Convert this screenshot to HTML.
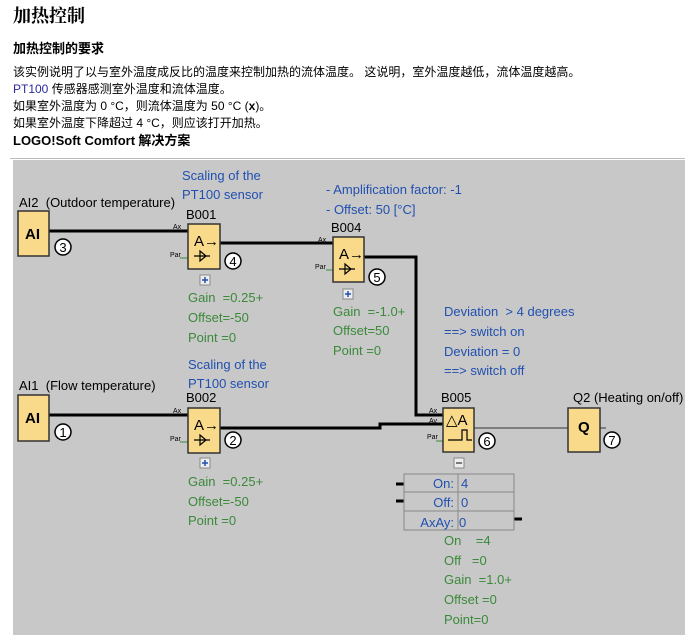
<!DOCTYPE html>
<html><head><meta charset="utf-8"><style>
body{margin:0;width:685px;height:635px;overflow:hidden;background:#fff;font-family:"Liberation Sans","Noto Sans CJK SC",sans-serif;}
.t{position:absolute;left:13px;color:#000;white-space:nowrap}
svg text{white-space:pre}
</style></head><body>
<div class="t" style="top:2px;font-family:'Liberation Serif','Noto Serif CJK SC',serif;font-size:18px;font-weight:bold;">加热控制</div>
<div class="t" style="top:38px;font-size:13px;font-weight:bold;">加热控制的要求</div>
<div class="t" style="top:64px;font-size:12px;line-height:17px;">该实例说明了以与室外温度成反比的温度来控制加热的流体温度。 这说明，室外温度越低，流体温度越高。<br><span style="color:#2a2a9a">PT100</span> 传感器感测室外温度和流体温度。<br>如果室外温度为 0 °C，则流体温度为 50 °C (<b>x</b>)。<br>如果室外温度下降超过 4 °C，则应该打开加热。<br><b style="font-size:13px">LOGO!Soft Comfort</b> <b style="font-size:13px">解决方案</b></div>
<svg style="position:absolute;left:0;top:0" width="685" height="635" font-family="Liberation Sans, sans-serif">
<line x1="10" y1="158.5" x2="685" y2="158.5" stroke="#bbb"/>
<rect x="13" y="160" width="672" height="475" fill="#c8c8c8"/>
<g stroke="#000" stroke-width="3" fill="none">
<polyline points="49,231 188,231"/>
<polyline points="220,243 333,243"/>
<polyline points="364,257 416,257 416,415 443,415"/>
<polyline points="49,415 188,415"/>
<polyline points="220,428 380,428 380,424 443,424"/>
<line x1="396" y1="484" x2="404" y2="484"/><line x1="396" y1="501" x2="404" y2="501"/><line x1="514" y1="519" x2="522" y2="519"/>
</g>
<line x1="474" y1="428" x2="568" y2="428" stroke="#333" stroke-width="1"/>
<line x1="600" y1="428" x2="606" y2="428" stroke="#333"/>
<g stroke="#3a8a3a" stroke-width="1"><line x1="180" y1="258" x2="188" y2="258"/><line x1="180" y1="442" x2="188" y2="442"/><line x1="326" y1="270" x2="333" y2="270"/><line x1="436" y1="441" x2="443" y2="441"/></g>
<g fill="#f9d98a" stroke="#333" stroke-width="1.5">
<rect x="18" y="211" width="31" height="45"/><rect x="18" y="395" width="31" height="46"/>
<rect x="188" y="224" width="32" height="45"/><rect x="188" y="408" width="32" height="45"/>
<rect x="333" y="237" width="31" height="45"/><rect x="443" y="408" width="31" height="44"/>
<rect x="568" y="408" width="32" height="44"/>
</g>
<g font-size="15" font-weight="bold" fill="#000"><text x="25" y="239">AI</text><text x="25" y="423">AI</text><text x="578" y="432">Q</text></g>
<g font-size="15" fill="#000"><text x="194" y="246">A→</text><text x="194" y="430">A→</text><text x="339" y="259">A→</text><text x="446" y="425">△A</text></g>
<g stroke="#000" fill="none" stroke-width="1.2">
<path d="M194,256h16M200,251l6,5l-6,5z"/><path d="M194,440h16M200,435l6,5l-6,5z"/><path d="M339,269h16M345,264l6,5l-6,5z"/>
<path d="M448,440h14v-10h5v10h5"/></g>
<g font-size="7" fill="#000"><text x="173" y="229">Ax</text><text x="170" y="257">Par</text><text x="173" y="413">Ax</text><text x="170" y="441">Par</text><text x="318" y="242">Ax</text><text x="315" y="269">Par</text><text x="429" y="413">Ax</text><text x="429" y="423">Av</text><text x="427" y="439">Par</text></g>
<g fill="#fff" stroke="#000" stroke-width="1.5"><circle cx="63" cy="247" r="8"/><circle cx="63" cy="432" r="8"/><circle cx="233" cy="261" r="8"/><circle cx="233" cy="440" r="8"/><circle cx="377" cy="277" r="8"/><circle cx="487" cy="441" r="8"/><circle cx="612" cy="440" r="8"/></g>
<g font-size="13" text-anchor="middle" fill="#000"><text x="63" y="252">3</text><text x="63" y="437">1</text><text x="233" y="266">4</text><text x="233" y="445">2</text><text x="377" y="282">5</text><text x="487" y="446">6</text><text x="612" y="445">7</text></g>
<g fill="#eee" stroke="#888"><rect x="200" y="275" width="10" height="10"/><rect x="200" y="458" width="10" height="10"/><rect x="343" y="289" width="10" height="10"/><rect x="454" y="458" width="10" height="10"/></g>
<g stroke="#2050b0" stroke-width="1.5"><path d="M202,280h6M205,277v6M202,463h6M205,460v6M345,294h6M348,291v6"/><path d="M456,463h6" stroke="#555"/></g>
<g font-size="13" fill="#000"><text x="19" y="207">AI2  (Outdoor temperature)</text><text x="19" y="390">AI1  (Flow temperature)</text><text x="186" y="219">B001</text><text x="186" y="402">B002</text><text x="331" y="232">B004</text><text x="441" y="402">B005</text><text x="573" y="402">Q2 (Heating on/off)</text></g>
<g font-size="13" fill="#2050b0"><text x="182" y="180">Scaling of the</text><text x="182" y="199">PT100 sensor</text><text x="188" y="369">Scaling of the</text><text x="188" y="388">PT100 sensor</text><text x="326" y="194">- Amplification factor: -1</text><text x="326" y="214">- Offset: 50 [°C]</text>
<text x="444" y="316">Deviation  &gt; 4 degrees</text><text x="444" y="336">==&gt; switch on</text><text x="444" y="356">Deviation = 0</text><text x="444" y="375">==&gt; switch off</text></g>
<g font-size="13" fill="#3a8a3a"><text x="188" y="302">Gain  =0.25+</text><text x="188" y="322">Offset=-50</text><text x="188" y="342">Point =0</text>
<text x="333" y="316">Gain  =-1.0+</text><text x="333" y="335">Offset=50</text><text x="333" y="355">Point =0</text>
<text x="188" y="486">Gain  =0.25+</text><text x="188" y="506">Offset=-50</text><text x="188" y="525">Point =0</text>
<text x="444" y="545">On    =4</text><text x="444" y="565">Off   =0</text><text x="444" y="584">Gain  =1.0+</text><text x="444" y="604">Offset =0</text><text x="444" y="624">Point=0</text></g>
<g fill="none" stroke="#888"><rect x="404" y="474" width="110" height="56"/><line x1="404" y1="492" x2="514" y2="492"/><line x1="404" y1="511" x2="514" y2="511"/><line x1="458" y1="474" x2="458" y2="530"/></g>
<g font-size="13" fill="#2050b0"><text x="454" y="488" text-anchor="end">On:</text><text x="454" y="507" text-anchor="end">Off:</text><text x="454" y="527" text-anchor="end">AxAy:</text><text x="461" y="488">4</text><text x="461" y="507">0</text><text x="459" y="527">0</text></g>
</svg>
</body></html>
